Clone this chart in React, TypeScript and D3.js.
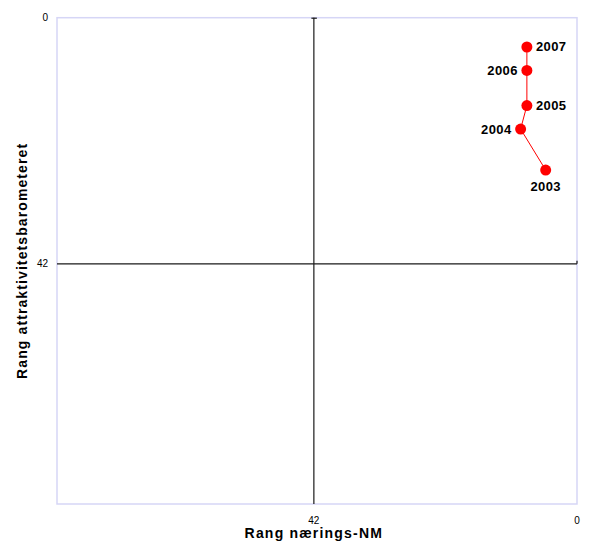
import React from "react";
import * as d3 from "d3";

const years = ["2003", "2004", "2005", "2006", "2007"];
const rankNM = [5, 9, 8, 8, 8];
const rankAttr = [26, 19, 15, 9, 5];
const labelPos = ["below", "left", "right", "left", "right"];
const xTickValues = [42, 0];
const yTickValues = [0, 42];

const W = 592;
const H = 541;
const M = { left: 57, right: 577, top: 17.7, bottom: 504 };

export default function App() {
  const x = d3.scaleLinear().domain([83, 0]).range([M.left, M.right]);
  const y = d3.scaleLinear().domain([0, 83]).range([M.top, M.bottom]);
  const pts = years.map((yr, i) => ({ yr, x: x(rankNM[i]), y: y(rankAttr[i]), pos: labelPos[i] }));
  const line = d3
    .line<{ x: number; y: number }>()
    .x((d) => d.x)
    .y((d) => d.y);
  const cx = x(42);
  const cy = y(42);
  const font = "Liberation Sans, Arial, Helvetica, sans-serif";
  return (
    <svg
      width={W}
      height={H}
      style={{ position: "absolute", left: 0, top: 0, background: "#fff" }}
      fontFamily={font}
    >
      <rect
        x={M.left}
        y={M.top}
        width={M.right - M.left}
        height={M.bottom - M.top}
        fill="#fff"
        stroke="#d6d6f6"
        strokeWidth={1.5}
      />
      <line x1={cx} x2={cx} y1={M.top} y2={M.bottom} stroke="#1a1a1a" strokeWidth={1.2} />
      <line x1={M.left} x2={M.right} y1={cy} y2={cy} stroke="#1a1a1a" strokeWidth={1.2} />
      <line x1={cx - 2.5} x2={cx + 3} y1={M.top + 0.5} y2={M.top + 0.5} stroke="#1a1a1a" strokeWidth={1.2} />
      <line x1={M.right} x2={M.right} y1={cy - 3} y2={cy} stroke="#1a1a1a" strokeWidth={1.2} />
      {yTickValues.map((v) => (
        <text key={"y" + v} x={48} y={y(v) + 3.5} fontSize={10} textAnchor="end" fill="#000">
          {v}
        </text>
      ))}
      {xTickValues.map((v) => (
        <text key={"x" + v} x={x(v)} y={524} fontSize={10} textAnchor="middle" fill="#000">
          {v}
        </text>
      ))}
      <text x={cx} y={537.5} fontSize={14} fontWeight="bold" letterSpacing={1.2} textAnchor="middle" fill="#000">
        Rang nærings-NM
      </text>
      <text
        transform={`translate(27,${(M.top + M.bottom) / 2}) rotate(-90)`}
        fontSize={14}
        fontWeight="bold"
        letterSpacing={1.1}
        textAnchor="middle"
        fill="#000"
      >
        Rang attraktivitetsbarometeret
      </text>
      <path d={line(pts) || ""} fill="none" stroke="#ff0000" strokeWidth={1} />
      {pts.map((p) => (
        <circle key={p.yr} cx={p.x} cy={p.y} r={5.5} fill="#ff0000" />
      ))}
      {pts.map((p) => {
        let tx = p.x;
        let ty = p.y + 4.5;
        let anchor: "start" | "end" | "middle" = "start";
        if (p.pos === "right") {
          tx = p.x + 9;
        } else if (p.pos === "left") {
          tx = p.x - 9;
          anchor = "end";
        } else {
          ty = p.y + 20.5;
          anchor = "middle";
        }
        return (
          <text key={"l" + p.yr} x={tx} y={ty} fontSize={13} fontWeight="bold" letterSpacing={0.4} textAnchor={anchor} fill="#000">
            {p.yr}
          </text>
        );
      })}
    </svg>
  );
}
